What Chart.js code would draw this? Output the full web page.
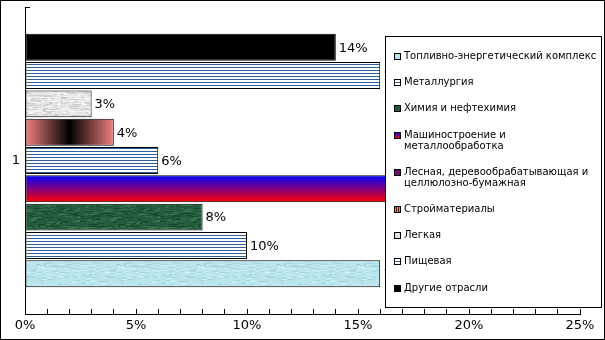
<!DOCTYPE html>
<html>
<head>
<meta charset="utf-8">
<script src="https://cdn.jsdelivr.net/npm/chart.js@4"></script>
<style>
  html, body { margin: 0; padding: 0; background: #fff; }
  canvas { display: block; }
</style>
</head>
<body>
<canvas id="chart" width="605" height="340"></canvas>
<script>
// values
var categories = ['1'];
var seriesNames = [
  'Топливно-энергетический комплекс',
  'Металлургия',
  'Химия и нефтехимия',
  'Машиностроение и\nметаллообработка',
  'Лесная, деревообрабатывающая и\nцеллюлозно-бумажная',
  'Стройматериалы',
  'Легкая',
  'Пищевая',
  'Другие отрасли'
];
var seriesValues = [16, 10, 8, 23, 6, 4, 3, 16, 14];
var xTickLabels = ['0%', '5%', '10%', '15%', '20%', '25%'];

var canvas = document.getElementById('chart');
var ctx = canvas.getContext('2d');
var FONT = 'DejaVu Sans';

function hash(n) {
  var s = Math.sin(n * 12.9898) * 43758.5453;
  return s - Math.floor(s);
}

// fixed texture for the textured bars (looks like the office fills)
function texture(base, light, dark, seed, w, h) {
  var c = document.createElement('canvas');
  c.width = w; c.height = h;
  var g = c.getContext('2d');
  g.fillStyle = base;
  g.fillRect(0, 0, w, h);
  for (var i = 0; i < 220; i++) {
    var a = hash(i + seed), b = hash(i * 3.7 + seed + 11), l = hash(i * 1.3 + seed + 5);
    g.fillStyle = (i % 2) ? light : dark;
    g.fillRect(Math.floor(a * w), Math.floor(b * h), 2 + Math.floor(l * 9), 1);
  }
  return ctx.createPattern(c, 'repeat');
}

function stripes() {
  var c = document.createElement('canvas');
  c.width = 4; c.height = 3;
  var g = c.getContext('2d');
  g.fillStyle = '#ffffff';
  g.fillRect(0, 0, 4, 3);
  g.fillStyle = '#2f5e9c';
  g.fillRect(0, 1, 4, 1);
  return ctx.createPattern(c, 'repeat');
}

var cyanTex = texture('#b9e4ec', '#caedf2', '#a3d8e3', 1, 80, 40);
var greenTex = texture('#245c3e', '#36744f', '#1a4a30', 7, 80, 40);
var greyTex = texture('#e4e4e4', '#f3f3f3', '#cfcfcf', 3, 60, 30);
var stripeFill = stripes();

// fill per series (same order as seriesNames)
var seriesFills = [cyanTex, stripeFill, greenTex, 'vgrad', stripeFill, 'hgrad', greyTex, stripeFill, '#000000'];
var swatchFills = ['#b6e3eb', 'stripe', '#1f5a3a', 'vgrad', '#6a0e6a', 'hgrad', '#e2e2e2', 'stripe', '#000000'];

// bars go bottom-up in the picture, so push the datasets reversed
var datasets = [];
for (var i = seriesNames.length - 1; i >= 0; i--) {
  var f = seriesFills[i];
  datasets.push({
    label: seriesNames[i],
    data: [seriesValues[i]],
    backgroundColor: (f === 'vgrad' || f === 'hgrad') ? '#888888' : f,
    fillKind: f,
    borderColor: '#000000',
    borderWidth: 1,
    borderSkipped: false
  });
}

var gradientPlugin = {
  id: 'gradients',
  beforeDatasetDraw: function (chart, args) {
    var ds = chart.data.datasets[args.index];
    if (ds.fillKind !== 'vgrad' && ds.fillKind !== 'hgrad') return;
    var c = chart.ctx;
    args.meta.data.forEach(function (el) {
      var g;
      if (ds.fillKind === 'vgrad') {
        g = c.createLinearGradient(0, el.y - el.height / 2, 0, el.y + el.height / 2);
        g.addColorStop(0, '#0000ff');
        g.addColorStop(0.5, '#80007f');
        g.addColorStop(1, '#ff0000');
      } else {
        g = c.createLinearGradient(el.base, 0, el.x, 0);
        g.addColorStop(0, '#f08080');
        g.addColorStop(0.5, '#000000');
        g.addColorStop(1, '#f08080');
      }
      el.options = Object.assign({}, el.options, { backgroundColor: g });
    });
  }
};

var labelPlugin = {
  id: 'valueLabels',
  afterDatasetsDraw: function (chart) {
    var c = chart.ctx;
    c.save();
    c.font = '13px "' + FONT + '"';
    c.fillStyle = '#000000';
    c.textBaseline = 'middle';
    c.textAlign = 'left';
    chart.data.datasets.forEach(function (ds, di) {
      chart.getDatasetMeta(di).data.forEach(function (el, j) {
        c.fillText(ds.data[j] + '%', el.x + 3, el.y + 1);
      });
    });
    c.restore();
  }
};

function drawSwatch(c, kind, x, y) {
  var s = 7;
  if (kind === 'vgrad') {
    var g = c.createLinearGradient(0, y, 0, y + s);
    g.addColorStop(0, '#0000ff'); g.addColorStop(0.5, '#80007f'); g.addColorStop(1, '#ff0000');
    c.fillStyle = g;
    c.fillRect(x, y, s, s);
  } else if (kind === 'hgrad') {
    c.fillStyle = '#f08080';
    c.fillRect(x, y, s, s);
    c.fillStyle = '#5a1a1a';
    c.fillRect(x + 2, y, 1, s);
    c.fillRect(x + 4, y, 1, s);
  } else if (kind === 'stripe') {
    c.fillStyle = '#ffffff';
    c.fillRect(x, y, s, s);
    c.fillStyle = '#2f5e9c';
    c.fillRect(x, y + 3, s, 1);
  } else {
    c.fillStyle = kind;
    c.fillRect(x, y, s, s);
  }
  c.strokeStyle = '#000000';
  c.lineWidth = 1;
  c.strokeRect(x + 0.5, y + 0.5, s - 1, s - 1);
}

// boxed legend drawn over the plot, like the original
var legendPlugin = {
  id: 'boxLegend',
  afterDraw: function (chart) {
    var c = chart.ctx;
    c.save();
    c.fillStyle = '#ffffff';
    c.fillRect(386, 37, 216, 271);
    c.strokeStyle = '#000000';
    c.lineWidth = 1;
    c.strokeRect(385.5, 36.5, 216, 271);
    c.font = '10px "' + FONT + '"';
    c.textBaseline = 'middle';
    c.textAlign = 'left';
    var y = 56.5;
    seriesNames.forEach(function (name, i) {
      var lines = name.split('\n');
      drawSwatch(c, swatchFills[i], 394, Math.round(y - 3.5));
      c.fillStyle = '#000000';
      lines.forEach(function (ln, k) {
        c.fillText(ln, 404, y + k * 11);
      });
      y += 26.2 + (lines.length - 1) * 11;
    });
    // outer frame and the small tick at the top of the category axis
    c.strokeRect(0.5, 0.5, 604, 339);
    c.beginPath();
    c.moveTo(25, 7.5);
    c.lineTo(30, 7.5);
    c.stroke();
    c.restore();
  }
};

new Chart(canvas, {
  type: 'bar',
  data: { labels: categories, datasets: datasets },
  options: {
    indexAxis: 'y',
    responsive: false,
    animation: false,
    devicePixelRatio: 1,
    categoryPercentage: 0.83,
    barPercentage: 0.95,
    layout: { padding: { left: 0, right: 25, top: 7, bottom: 0 } },
    plugins: { legend: { display: false }, tooltip: { enabled: false } },
    scales: {
      x: {
        min: 0,
        max: 25,
        afterFit: function (s) { s.height = 26; },
        grid: { drawOnChartArea: false, tickLength: -5, color: '#000000' },
        border: { color: '#000000' },
        ticks: {
          stepSize: 1,
          autoSkip: false,
          maxRotation: 0,
          padding: 9,
          color: '#000000',
          font: { family: FONT, size: 13 },
          callback: function (v) { return v % 5 === 0 ? xTickLabels[v / 5] : ''; }
        }
      },
      y: {
        afterFit: function (s) { s.width = 25; s.paddingTop = 0; s.paddingBottom = 0; },
        grid: { drawOnChartArea: false, offset: false, tickLength: -3, color: '#000000' },
        border: { color: '#000000' },
        ticks: { padding: 8, color: '#000000', font: { family: FONT, size: 13 } }
      }
    }
  },
  plugins: [gradientPlugin, labelPlugin, legendPlugin]
});
</script>
</body>
</html>
